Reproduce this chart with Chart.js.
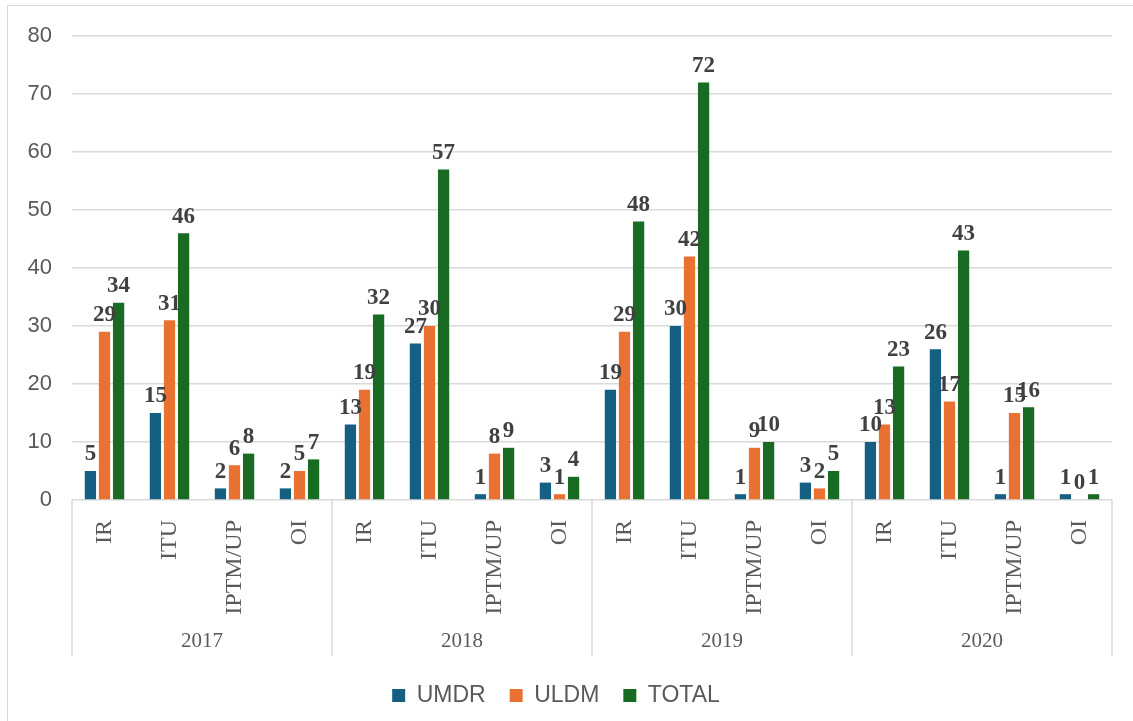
<!DOCTYPE html>
<html>
<head>
<meta charset="utf-8">
<script src="https://cdn.jsdelivr.net/npm/chart.js@4.4.1/dist/chart.umd.min.js"></script>
<style>
  html, body { margin: 0; padding: 0; background: #fff; overflow: hidden; }
  #wrap { position: relative; width: 1133px; height: 721px; }
  #frame { position: absolute; left: 7px; top: 5px; right: -10px; bottom: -10px; border: 1.5px solid #d9d9d9; }
  canvas { position: absolute; left: 0; top: 0; }
</style>
</head>
<body>
<div id="wrap">
  <div id="frame"></div>
  <canvas id="chart" width="1133" height="721"></canvas>
</div>
<script>
// categories (4 per year)
const years = ["2017", "2018", "2019", "2020"];
const types = ["IR", "ITU", "IPTM/UP", "OI"];
const labels = years.flatMap(() => types);

// series values, in order 2017 IR..OI, 2018 IR..OI, ...
const umdr  = [5, 15, 2, 2,   13, 27, 1, 3,   19, 30, 1, 3,   10, 26, 1, 1];
const uldm  = [29, 31, 6, 5,  19, 30, 8, 1,   29, 42, 9, 2,   13, 17, 15, 0];
const total = [34, 46, 8, 7,  32, 57, 9, 4,   48, 72, 10, 5,  23, 43, 16, 1];

const yTicks = [0, 10, 20, 30, 40, 50, 60, 70, 80];

const GRID = "#d9d9d9";
const TEXT = "#595959";

// value labels above bars
const valueLabels = {
  id: "valueLabels",
  afterDatasetsDraw(chart) {
    const ctx = chart.ctx;
    ctx.save();
    ctx.font = 'bold 23px "Liberation Serif", "Times New Roman", serif';
    ctx.fillStyle = "#404040";
    ctx.textAlign = "center";
    ctx.textBaseline = "bottom";
    chart.data.datasets.forEach((ds, di) => {
      chart.getDatasetMeta(di).data.forEach((bar, i) => {
        ctx.fillText(String(ds.data[i]), bar.x, bar.y - 5);
      });
    });
    ctx.restore();
  }
};

// year group labels and separators under the category axis
const yearAxis = {
  id: "yearAxis",
  afterDraw(chart) {
    const ctx = chart.ctx;
    const x = chart.scales.x;
    const top = x.top;
    const bottom = top + 156;
    const n = types.length;
    const step = x.getPixelForValue(1) - x.getPixelForValue(0);
    ctx.save();
    ctx.strokeStyle = GRID;
    ctx.lineWidth = 1.5;
    for (let g = 0; g <= years.length; g++) {
      const px = x.getPixelForValue(g * n) - step / 2;
      ctx.beginPath();
      ctx.moveTo(px, top);
      ctx.lineTo(px, bottom);
      ctx.stroke();
    }
    ctx.font = '21px "Liberation Serif", "Times New Roman", serif';
    ctx.fillStyle = TEXT;
    ctx.textAlign = "center";
    ctx.textBaseline = "middle";
    years.forEach((y, g) => {
      const cx = (x.getPixelForValue(g * n) + x.getPixelForValue(g * n + n - 1)) / 2;
      ctx.fillText(y, cx, top + 141);
    });
    ctx.restore();
  }
};

const ctx = document.getElementById("chart").getContext("2d");
new Chart(ctx, {
  type: "bar",
  data: {
    labels: labels,
    datasets: [
      { label: "UMDR",  data: umdr,  backgroundColor: "#156082" },
      { label: "ULDM",  data: uldm,  backgroundColor: "#E97132" },
      { label: "TOTAL", data: total, backgroundColor: "#196B24" }
    ]
  },
  options: {
    responsive: false,
    animation: false,
    barPercentage: 0.8,
    categoryPercentage: 0.65,
    layout: { padding: { top: 36, right: 21, left: 0, bottom: 4 } },
    plugins: {
      tooltip: { enabled: false },
      legend: {
        position: "bottom",
        labels: {
          boxWidth: 13,
          boxHeight: 13,
          padding: 24,
          color: TEXT,
          font: { family: '"Liberation Sans", Arial, sans-serif', size: 23 }
        }
      }
    },
    scales: {
      x: {
        grid: { display: false },
        border: { display: false },
        ticks: {
          minRotation: 90,
          maxRotation: 90,
          padding: 12,
          color: TEXT,
          font: { family: '"Liberation Serif", "Times New Roman", serif', size: 24 }
        },
        afterFit(scale) { scale.height = 160; }
      },
      y: {
        min: 0,
        max: 80,
        afterBuildTicks(scale) { scale.ticks = yTicks.map(v => ({ value: v })); },
        grid: { color: GRID, lineWidth: 1.5, drawTicks: false },
        border: { display: false },
        ticks: {
          padding: 20,
          color: TEXT,
          font: { family: '"Liberation Sans", Arial, sans-serif', size: 22 }
        },
        afterFit(scale) { scale.width = 72; }
      }
    }
  },
  plugins: [valueLabels, yearAxis]
});
</script>
</body>
</html>
